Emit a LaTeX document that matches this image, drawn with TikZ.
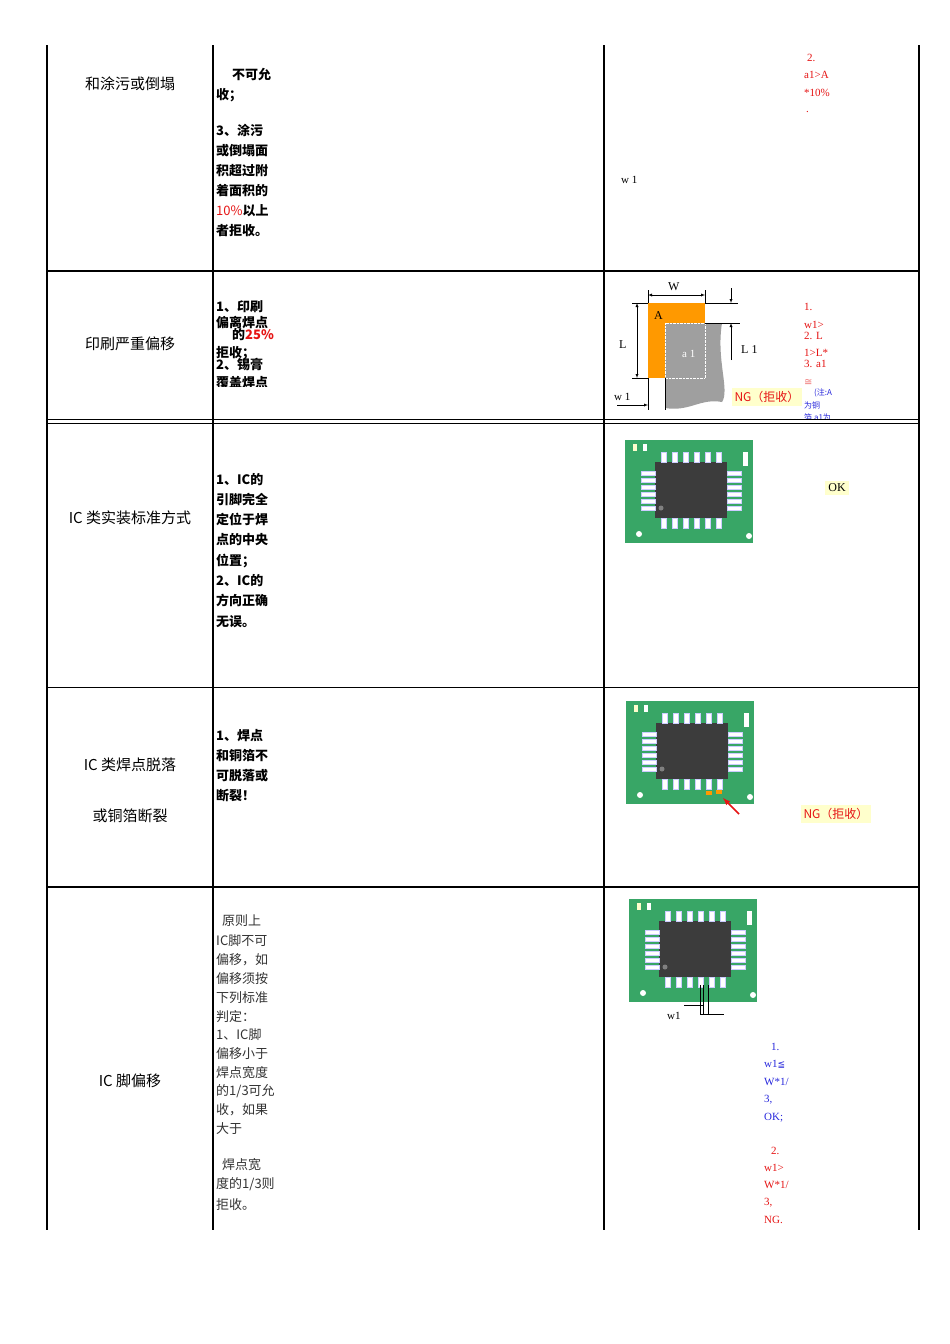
\documentclass[tikz,border=0pt]{standalone}
\usepackage{fontspec}
\setmainfont{Liberation Serif}
\newfontfamily\cjk{Noto Sans CJK SC}
\newfontfamily\dvs{DejaVu Sans}
\definecolor{pcb}{RGB}{56,166,102}
\definecolor{chipc}{RGB}{60,60,60}
\definecolor{orng}{RGB}{255,153,0}
\definecolor{yel}{RGB}{255,255,204}
\definecolor{myred}{RGB}{230,20,20}
\definecolor{myblue}{RGB}{40,40,220}
\tikzset{
  tx/.style={anchor=base west,inner sep=0pt,font=\fontsize{13}{13}\selectfont\cjk},
  hd/.style={anchor=base,inner sep=0pt,font=\fontsize{15}{15}\selectfont\cjk},
  sm/.style={anchor=base west,inner sep=0pt,font=\fontsize{11}{11}\selectfont},
  grid/.style={line width=1.2pt},
  pinv/.style={fill=white,draw=white!80!blue,line width=0.3pt},
}
\newcommand{\chipdraw}{%
  \fill[pcb] (0,0) rectangle (128,103);
  \fill[chipc] (30,22) rectangle (102,78);
  \foreach \i in {0,...,5}{
    \fill[pinv] (36.5+\i*11,12) rectangle (41.5+\i*11,22);
    \fill[pinv] (36.5+\i*11,78) rectangle (41.5+\i*11,88);
    \fill[pinv] (16,31.5+\i*7) rectangle (30,35.5+\i*7);
    \fill[pinv] (102,31.5+\i*7) rectangle (116,35.5+\i*7);}
  \fill[white!80!yellow] (8,4) rectangle (12,11);
  \fill[white] (18,4) rectangle (22,11);
  \fill[white] (118,12) rectangle (123,26);
  \fill[gray] (36,68) circle (2.5);
  \fill[white] (14,94) circle (3);
  \fill[white] (124,96) circle (3);
}
\begin{document}
\begin{tikzpicture}[x=1pt,y=-1pt]
\useasboundingbox[fill=white] (0,0) rectangle (950,1344);
% grid
\foreach \x in {47,213,604,919} \draw[grid] (\x,45) -- (\x,1230);
\draw[grid] (47,271) -- (919,271);
\draw[line width=0.8pt] (47,419) -- (919,419);
\draw[line width=0.8pt] (47,423) -- (919,423);
\draw[line width=0.8pt] (47,687) -- (919,687);
\draw[grid] (47,887) -- (919,887);
% column 1
\node[hd] (c1) at (130,89) {和涂污或倒塌};
\node[hd] (c2) at (130,349) {印刷严重偏移};
\node[hd] (c3) at (130,523) {IC 类实装标准方式};
\node[hd] (c4a) at (130,770) {IC 类焊点脱落};
\node[hd] (c4b) at (130,821) {或铜箔断裂};
\node[hd] (c5) at (130,1086) {IC 脚偏移};
% column 2 row1
\node[tx] (t1a) at (232,79) {\bfseries 不可允};
\node[tx] (t1b) at (216,99) {\bfseries 收；};
\node[tx] (t1c) at (216,135) {\bfseries 3、涂污};
\node[tx] (t1d) at (216,155) {\bfseries 或倒塌面};
\node[tx] (t1e) at (216,175) {\bfseries 积超过附};
\node[tx] (t1f) at (216,195) {\bfseries 着面积的};
\node[tx] (t1g) at (216,215) {\textcolor{myred}{10\%}\bfseries 以上};
\node[tx] (t1h) at (216,235) {\bfseries 者拒收。};
% row2
\begin{scope}
\clip (214,296) rectangle (300,386);
\node[tx] (t2a) at (216,311) {\bfseries 1、印刷};
\node[tx] (t2b) at (216,327) {\bfseries 偏离焊点};
\node[tx] (t2c) at (232,339) {\bfseries 的\textcolor{myred}{25\%}};
\node[tx] (t2d) at (216,357) {\bfseries 拒收；};
\node[tx] (t2e) at (216,369) {\bfseries 2、锡膏};
\node[tx] (t2f) at (216,387) {\bfseries 覆盖焊点};
\end{scope}
% row3
\foreach \t [count=\i from 0] in {1、IC的,引脚完全,定位于焊,点的中央,位置；,2、IC的,方向正确,无误。}
  \node[tx] at (216,484+\i*20.3) {\bfseries \t};
% row4
\foreach \t [count=\i from 0] in {1、焊点,和铜箔不,可脱落或,断裂！}
  \node[tx] at (216,740+\i*20.3) {\bfseries \t};
% row5
\begin{scope}[every node/.style={tx,text=black!80}]
\node at (216,925) {\ \ 原则上};
\node at (216,945) {IC脚不可};
\node at (216,964) {偏移，如};
\node at (216,983) {偏移须按};
\node at (216,1002) {下列标准};
\node at (216,1021) {判定：};
\node at (216,1039) {1、IC脚};
\node at (216,1058) {偏移小于};
\node at (216,1077) {焊点宽度};
\node at (216,1095) {的1/3可允};
\node at (216,1114) {收，如果};
\node at (216,1133) {大于};
\node at (216,1169) {\ \ 焊点宽};
\node at (216,1188) {度的1/3则};
\node at (216,1209) {拒收。};
\end{scope}
% row1 right
\node[sm,text=myred] (r1a) at (807,61) {2.};
\node[sm,text=myred] (r1b) at (804,78) {a1>A};
\node[sm,text=myred] (r1c) at (804,96) {*10\%};
\node[sm,text=myred] (r1d) at (806,112) {.};
\node[sm] (r1w) at (621,183) {w 1};
% row2 diagram
\fill[orng] (648,303) rectangle (705,378);
\fill[gray!75] (665,323) -- (722,323) .. controls (716,360) and (730,390) .. (722,402) .. controls (700,398) and (690,412) .. (665,408) -- cycle;
\draw[white,densely dotted] (665,323) rectangle (705,378);
\node[sm,font=\fontsize{12}{12}\selectfont] (lA) at (654,319) {A};
\node[sm,text=white,font=\fontsize{11}{11}\selectfont] (la1) at (682,357) {a 1};
\draw (648,290) -- (648,303) (705,290) -- (705,303);
\draw[latex-latex] (648,295) -- (705,295);
\node[sm,font=\fontsize{12}{12}\selectfont] (lW) at (668,290) {W};
\draw (632,303) -- (648,303) (632,378) -- (648,378);
\draw[latex-latex] (637,303) -- (637,378);
\node[sm,font=\fontsize{12}{12}\selectfont] (lL) at (619,348) {L};
\draw (705,303) -- (738,303) (705,323) -- (740,323);
\draw[-latex] (731,288) -- (731,303);
\draw[-latex] (731,360) -- (731,323);
\node[sm,font=\fontsize{12}{12}\selectfont] (lL1) at (741,353) {L 1};
\draw (648,378) -- (648,410) (665,378) -- (665,410);
\draw[-latex] (617,405) -- (648,405);
\node[sm] (lw1) at (614,400) {w 1};
\node[tx,fill=yel,text=myred,inner sep=3pt,anchor=center,font=\fontsize{12}{12}\selectfont\cjk] (ng1) at (767,397) {NG（拒收）};
\begin{scope}
\clip (800,296) rectangle (850,418);
\node[sm,text=myred] at (804,310) {1.};
\node[sm,text=myred] at (804,328) {w1>};
\node[sm,text=myred] at (804,339) {2. L};
\node[sm,text=myred] at (804,356) {1>L*};
\node[sm,text=myred] at (804,367) {3. a1};
\node[sm,text=myred!60,font=\fontsize{10}{10}\selectfont\dvs] at (804,385) {≅};
\node[sm,text=myblue,font=\fontsize{8}{8}\selectfont\cjk] at (814,395) {(注:A};
\node[sm,text=myblue,font=\fontsize{8}{8}\selectfont\cjk] at (804,408) {为铜};
\node[sm,text=myblue,font=\fontsize{8}{8}\selectfont\cjk] at (804,420) {箔 a1为};
\end{scope}
% row3 chip
\begin{scope}[shift={(625,440)}] \chipdraw \end{scope}
\node[tx,fill=yel,inner sep=3pt,anchor=center,font=\fontsize{12}{12}\selectfont] (ok) at (837,488) {OK};
% row4 chip
\begin{scope}[shift={(626,701)}] \chipdraw
  \fill[orng] (80,90) rectangle (86,94); \fill[orng] (90,89) rectangle (96,93);
\end{scope}
\coordinate (arT) at (723,798);
\coordinate (arS) at (739,814);
\draw[myred,line width=1.5pt,-latex] (arS) -- (arT);
\node[tx,fill=yel,text=myred,inner sep=3pt,anchor=center,font=\fontsize{12}{12}\selectfont\cjk] (ng2) at (836,814) {NG（拒收）};
% row5 chip
\begin{scope}[shift={(629,899)}] \chipdraw \end{scope}
\draw (700,985) -- (700,1014) -- (724,1014) (703,985) -- (703,1014) (708,985) -- (708,1014);
\draw (684,1005) -- (703,1005);
\node[sm] (w1b) at (667,1019) {w1};
\node[sm,text=myblue] at (771,1050) {1.};
\node[sm,text=myblue] at (764,1067) {w1{\dvs\fontsize{9}{9}\selectfont ≦}};
\node[sm,text=myblue] at (764,1085) {W*1/};
\node[sm,text=myblue] at (764,1102) {3,};
\node[sm,text=myblue] at (764,1120) {OK;};
\node[sm,text=myred] at (771,1154) {2.};
\node[sm,text=myred] at (764,1171) {w1>};
\node[sm,text=myred] at (764,1188) {W*1/};
\node[sm,text=myred] at (764,1205) {3,};
\node[sm,text=myred] at (764,1223) {NG.};
\end{tikzpicture}
\end{document}
